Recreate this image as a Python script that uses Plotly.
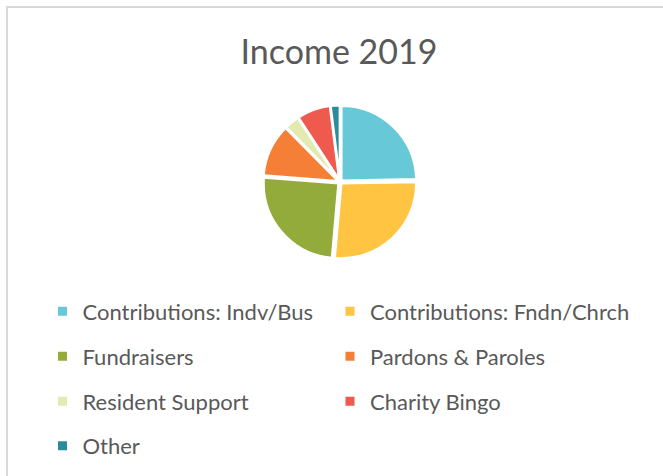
import plotly.graph_objects as go

labels = ["Contributions: Indv/Bus", "Contributions: Fndn/Chrch", "Fundraisers",
          "Pardons & Paroles", "Resident Support", "Charity Bingo", "Other"]
values = [24.7, 26.7, 24.8, 11.4, 3.2, 7.2, 2.0]
colors = ["#67C9D8", "#FFC441", "#93AB3B", "#F57F36", "#E2EAAF", "#EE5B4E", "#2A8C9B"]

W, H = 663, 476
FONT = "Lato, 'Open Sans', sans-serif"
TXT = "#595959"

fig = go.Figure()
pull = 0.025
r = 75
cx, cy = 340, 182
half = r * (1 + pull)
fig.add_trace(go.Pie(
    labels=labels, values=values, sort=False, direction="clockwise", rotation=0,
    marker=dict(colors=colors, line=dict(color="white", width=2.5)),
    pull=[pull] * len(values), textinfo="none", hoverinfo="label+percent",
    showlegend=False,
    domain=dict(x=[(cx - 120) / W, (cx + 120) / W], y=[1 - (cy + half) / H, 1 - (cy - half) / H]),
))

# legend entries (one legend per entry for exact placement)
col_x = [62.5, 350]
row_y = [313.5, 358.5, 403.5, 448]
layout_legends = {}
for i, (lab, col) in enumerate(zip(labels, colors)):
    key = "legend" if i == 0 else f"legend{i+1}"
    fig.add_trace(go.Scatter(
        x=[None], y=[None], mode="markers", name=lab, legend=key,
        marker=dict(symbol="square", size=9, color=col), showlegend=True,
    ))
    cxl = col_x[i % 2]
    cyl = row_y[i // 2]
    layout_legends[key] = dict(
        x=(cxl - 20) / W, y=1 - (cyl - 2) / H, xanchor="left", yanchor="middle",
        xref="paper", yref="paper", bgcolor="rgba(0,0,0,0)", borderwidth=0,
        font=dict(family=FONT, size=22, color=TXT), orientation="h",
    )

fig.update_layout(
    width=W, height=H, margin=dict(l=0, r=0, t=0, b=0),
    paper_bgcolor="white", plot_bgcolor="white",
    xaxis=dict(visible=False), yaxis=dict(visible=False),
    title=dict(text="Income 2019", x=339 / W, y=1 - 52 / H, xanchor="center", yanchor="middle",
               font=dict(family=FONT, size=34, color=TXT)),
    shapes=[dict(type="rect", xref="paper", yref="paper",
                 x0=7 / W, x1=1.05, y0=-0.05, y1=1 - 7 / H,
                 line=dict(color="#D9D9D9", width=2), fillcolor="rgba(0,0,0,0)", layer="below")],
    **layout_legends,
)

fig.write_html("out.html", config={"displayModeBar": False},
               post_script="document.body.style.margin='0';")
